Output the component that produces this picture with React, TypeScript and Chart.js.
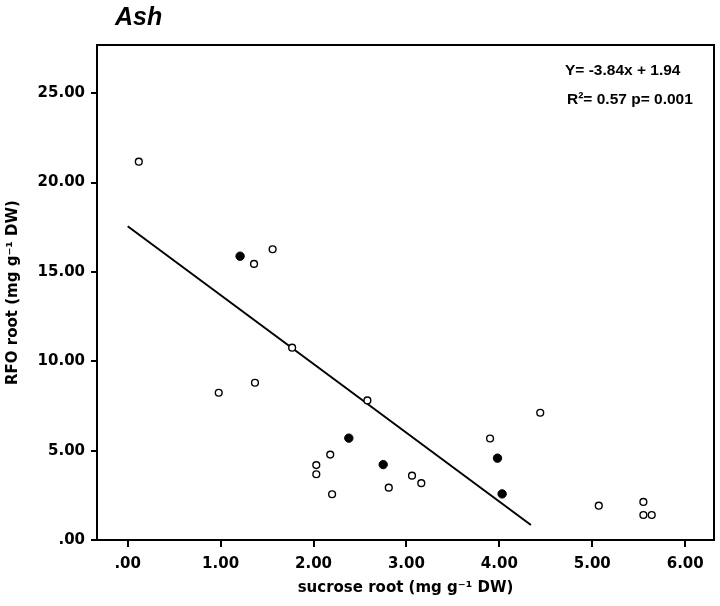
import React, { useEffect, useRef } from "react";
import { Chart, registerables } from "chart.js";

Chart.register(...registerables);

// ---- data ----
const openX = [0.12, 1.36, 1.56, 1.77, 0.98, 1.37, 2.58, 4.44, 3.90, 2.18, 2.03, 2.03, 3.06, 3.16, 2.81, 2.20, 5.07, 5.55, 5.55, 5.64];
const openY = [21.17, 15.45, 16.27, 10.76, 8.24, 8.80, 7.81, 7.12, 5.68, 4.78, 4.19, 3.68, 3.60, 3.18, 2.93, 2.56, 1.92, 2.13, 1.40, 1.40];
const filledX = [1.21, 2.38, 2.75, 3.98, 4.03];
const filledY = [15.88, 5.70, 4.22, 4.58, 2.58];
const fitX = [0.0, 4.34];
const fitY = [17.56, 0.84];

const xTicks = [0, 1, 2, 3, 4, 5, 6];
const xTickLabels = [".00", "1.00", "2.00", "3.00", "4.00", "5.00", "6.00"];
const yTicks = [0, 5, 10, 15, 20, 25];
const yTickLabels = [".00", "5.00", "10.00", "15.00", "20.00", "25.00"];

const chartTitle = "Ash";
const xTitle = "sucrose root (mg g\u207B\u00B9 DW)";
const yTitle = "RFO root (mg g\u207B\u00B9 DW)";
const eqLine1 = "Y= -3.84x + 1.94";
const eqLine2 = "R\u00B2= 0.57 p= 0.001";

const X_MIN = -0.33;
const X_MAX = 6.31;
const Y_MIN = 0;
const Y_MAX = 27.7;

const toPts = (xs: number[], ys: number[]) => xs.map((x, i) => ({ x, y: ys[i] }));

const TICK_FONT = { family: "'DejaVu Sans'", size: 15, weight: "bold" as const };

const decorPlugin = {
  id: "decor",
  afterDraw(chart: any) {
    const { ctx, chartArea } = chart;
    const { left, top, right, bottom } = chartArea;
    ctx.save();
    // frame
    ctx.strokeStyle = "#000";
    ctx.lineWidth = 2;
    ctx.strokeRect(left, top, right - left, bottom - top);
    // title
    ctx.fillStyle = "#000";
    ctx.textBaseline = "alphabetic";
    ctx.textAlign = "left";
    ctx.font = "italic bold 25px 'Liberation Sans'";
    ctx.fillText(chartTitle, 115, 25);
    // equation
    ctx.font = "bold 15.5px 'Liberation Sans'";
    ctx.fillText(eqLine1, 565, 75);
    ctx.fillText(eqLine2, 567, 104);
    ctx.restore();
  },
};

export default function App() {
  const ref = useRef<HTMLCanvasElement | null>(null);

  useEffect(() => {
    if (!ref.current) return;
    const chart = new Chart(ref.current, {
      type: "scatter",
      data: {
        datasets: [
          {
            type: "line",
            label: "fit",
            data: toPts(fitX, fitY),
            borderColor: "#000",
            borderWidth: 2,
            pointRadius: 0,
            fill: false,
            order: 3,
          } as any,
          {
            label: "open",
            data: toPts(openX, openY),
            pointRadius: 3.4,
            pointBackgroundColor: "#fff",
            pointBorderColor: "#000",
            pointBorderWidth: 1.4,
            order: 1,
          },
          {
            label: "filled",
            data: toPts(filledX, filledY),
            pointRadius: 4.2,
            pointBackgroundColor: "#000",
            pointBorderColor: "#000",
            pointBorderWidth: 1,
            order: 2,
          },
        ],
      },
      options: {
        responsive: false,
        animation: false,
        layout: { padding: { top: 45, right: 6, left: 0, bottom: 0 } },
        plugins: {
          legend: { display: false },
          tooltip: { enabled: false },
          title: { display: false },
        },
        scales: {
          x: {
            type: "linear",
            min: X_MIN,
            max: X_MAX,
            afterBuildTicks: (scale: any) => {
              scale.ticks = xTicks.map((v) => ({ value: v }));
            },
            afterFit: (scale: any) => {
              scale.height = 66;
            },
            ticks: {
              color: "#000",
              font: TICK_FONT,
              padding: 8,
              maxRotation: 0,
              autoSkip: false,
              callback: (v: any) => {
                const i = xTicks.indexOf(Number(v));
                return i >= 0 ? xTickLabels[i] : "";
              },
            },
            grid: {
              drawOnChartArea: false,
              drawTicks: true,
              tickLength: 7,
              color: "#000",
              lineWidth: 2,
            },
            border: { display: false },
            title: {
              display: true,
              text: xTitle,
              color: "#000",
              font: TICK_FONT,
              padding: { top: 0, bottom: 9 },
            },
          },
          y: {
            type: "linear",
            min: Y_MIN,
            max: Y_MAX,
            afterBuildTicks: (scale: any) => {
              scale.ticks = yTicks.map((v) => ({ value: v }));
            },
            afterFit: (scale: any) => {
              scale.width = 97;
            },
            ticks: {
              color: "#000",
              font: TICK_FONT,
              padding: 6,
              autoSkip: false,
              callback: (v: any) => {
                const i = yTicks.indexOf(Number(v));
                return i >= 0 ? yTickLabels[i] : "";
              },
            },
            grid: {
              drawOnChartArea: false,
              drawTicks: true,
              tickLength: 6,
              color: "#000",
              lineWidth: 2,
            },
            border: { display: false },
            title: {
              display: true,
              text: yTitle,
              color: "#000",
              font: TICK_FONT,
              padding: { top: 4, bottom: 0 },
            },
          },
        },
      },
      plugins: [decorPlugin],
    });
    return () => chart.destroy();
  }, []);

  return (
    <div style={{ position: "absolute", left: 0, top: 0, width: 720, height: 606, background: "#fff" }}>
      <canvas ref={ref} width={720} height={606} style={{ display: "block", width: 720, height: 606 }} />
    </div>
  );
}
